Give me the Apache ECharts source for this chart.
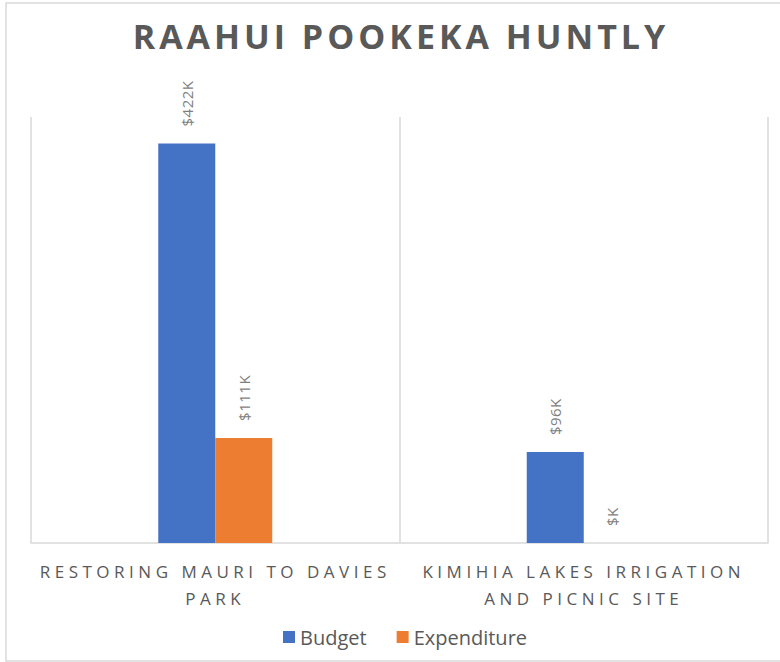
<!DOCTYPE html>
<html>
<head>
<meta charset="utf-8">
<title>Raahui Pookeka Huntly</title>
<script src="https://cdn.jsdelivr.net/npm/echarts@6/dist/echarts.min.js"></script>
<style>
    html, body { margin: 0; padding: 0; background: #fff; }
    #chart { width: 780px; height: 662px; }
    /* 字间距：svg 文字按字号区分 */
    #chart text[style*="34px"] { letter-spacing: 4px; }
    #chart text[style*="17px"] { letter-spacing: 4.5px; }
    #chart text[style*="15px"] { letter-spacing: 0.5px; }
</style>
</head>
<body>
<div id="chart"></div>
<script>
// 项目名称
var categories = ['RESTORING MAURI TO DAVIES\nPARK', 'KIMIHIA LAKES IRRIGATION\nAND PICNIC SITE'];
// 单位：千元
var budget = [422, 96];
var expenditure = [111, 0];

window.onload = function () {
    initChart();
}

function initChart() {
    var chart = echarts.init(document.getElementById('chart'), null, { renderer: 'svg' });
    var labelStyle = {
        show: true,
        position: 'top',
        rotate: 90,
        align: 'left',
        verticalAlign: 'middle',
        distance: 17,
        color: '#7f7f7f',
        fontSize: 15,
        fontFamily: 'Open Sans',
        formatter: function (p) {
            return '$' + (p.value ? p.value : '') + 'K';
        }
    };
    chart.setOption({
        animation: false,
        title: {
            text: 'RAAHUI POOKEKA HUNTLY',
            left: 396,
            textAlign: 'center',
            top: 14,
            textStyle: {
                color: '#595959',
                fontSize: 34,
                fontWeight: 'bold',
                fontFamily: 'Open Sans'
            }
        },
        graphic: [{
            type: 'rect',
            shape: { x: 6, y: 3, width: 800, height: 658 },
            style: { fill: 'none', stroke: '#d9d9d9', lineWidth: 1.5 },
            silent: true
        }],
        legend: {
            bottom: 10,
            left: 278,
            itemWidth: 12,
            itemHeight: 12,
            itemGap: 30,
            icon: 'rect',
            textStyle: { color: '#595959', fontSize: 20, fontFamily: 'Open Sans' },
            data: ['Budget', 'Expenditure']
        },
        grid: { left: 31, right: 12, top: 117, bottom: 119 },
        xAxis: {
            type: 'category',
            data: categories,
            axisLine: { lineStyle: { color: '#d9d9d9', width: 1.5 } },
            axisTick: { show: false },
            splitLine: { show: true, lineStyle: { color: '#d9d9d9', width: 1.5 } },
            axisLabel: {
                color: '#595959',
                fontSize: 17,
                fontFamily: 'Open Sans',
                lineHeight: 27,
                margin: 15,
                interval: 0
            }
        },
        yAxis: {
            type: 'value',
            min: 0,
            max: 450,
            show: false,
            splitLine: { show: false }
        },
        series: [{
            name: 'Budget',
            type: 'bar',
            data: budget,
            barWidth: 57,
            barGap: '0%',
            itemStyle: { color: '#4472c4' },
            label: labelStyle
        }, {
            name: 'Expenditure',
            type: 'bar',
            data: expenditure,
            barWidth: 57,
            itemStyle: { color: '#ed7d31' },
            label: labelStyle
        }]
    });
}
</script>
</body>
</html>
